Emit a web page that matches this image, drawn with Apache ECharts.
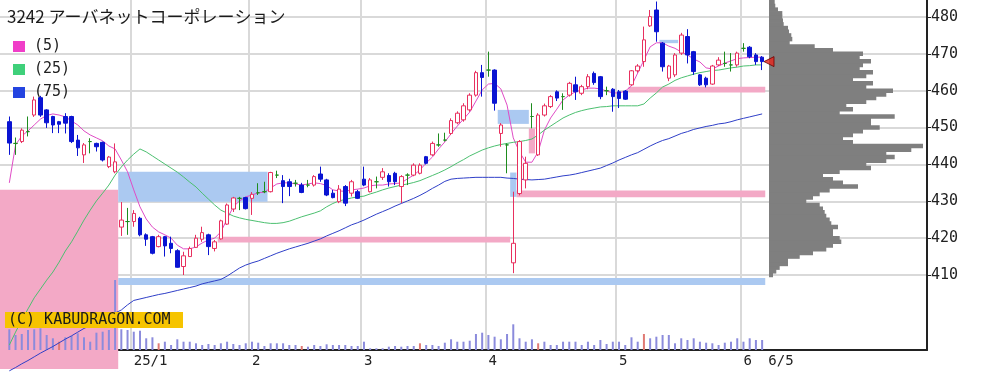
<!DOCTYPE html>
<html lang="ja">
<head>
<meta charset="utf-8">
<title>3242 アーバネットコーポレーション</title>
<script src="https://cdn.jsdelivr.net/npm/echarts@6.0.0/dist/echarts.min.js"></script>
<style>
html,body{margin:0;padding:0;background:#ffffff;}
#chart{width:982px;height:375px;}
</style>
</head>
<body>
<div id="chart"></div>
<script>
// ===================== DATA =====================
const chartTitle = '3242 アーバネットコーポレーション';
const maNames = ['(5)', '(25)', '(75)'];

// trading days shown (Dec 2024 .. Jun 2025)
const daysDec2024 = [3,4,5,6,9,10,11,12,13,16,17,18,19,20,23,24,25,26,27,30];
const daysJan2025 = [6,7,8,9,10,14,15,16,17,20,21,22,23,24,27,28,29,30,31];
const daysFeb2025 = [3,4,5,6,7,10,12,13,14,17,18,19,20,21,25,26,27,28];
const daysMar2025 = [3,4,5,6,7,10,11,12,13,14,17,18,19,21,24,25,26,27,28,31];
const daysApr2025 = [1,2,3,4,7,8,9,10,11,14,15,16,17,18,21,22,23,24,25,28,30];
const daysMay2025 = [1,2,7,8,9,12,13,14,15,16,19,20,21,22,23,26,27,28,29,30];
const daysJun2025 = [2,3,4,5];
const monthKeys = ['2024-12','2025-01','2025-02','2025-03','2025-04','2025-05','2025-06'];

// x tick labels
const monthTickLabels = ['25/1', '2', '3', '4', '5', '6'];
const lastDateLabel = '6/5';

// daily candles [open, close, low, high]
const candles = [
[451.6,445.8,442.6,453.0],[445.7,445.7,442.6,447.3],[446.2,449.3,445.8,449.8],[448.9,448.9,447.6,453.0],[453.4,457.5,452.9,458.4],
[458.1,453.4,452.9,458.6],[454.8,451.3,449.9,455.0],[453.0,450.7,448.5,453.2],[451.6,450.9,448.5,451.8],[453.0,451.2,448.4,453.9],
[453.0,446.2,445.8,453.2],[446.6,444.5,442.3,448.0],[442.6,445.3,440.4,445.8],[446.2,446.2,443.0,447.1],[445.7,444.8,443.5,445.9],
[446.0,441.2,440.8,446.2],[439.4,442.0,439.0,442.3],[438.0,440.7,437.6,445.7],[423.0,424.9,420.6,429.8],[424.5,424.5,420.9,428.2],
[424.5,426.7,423.1,427.6],[425.4,420.9,420.5,425.8],[420.9,419.7,417.9,421.3],[420.4,415.9,415.6,420.6],[417.7,420.4,417.5,420.9],
[420.4,417.9,415.0,420.6],[418.6,417.2,415.9,420.4],[416.6,412.1,412.0,417.0],[412.3,415.2,410.0,416.3],[415.0,417.2,414.9,417.7],
[417.5,420.0,417.4,420.9],[419.7,421.5,419.0,423.1],[420.9,417.7,415.4,421.2],[417.2,419.0,416.4,419.5],[419.8,424.7,419.6,425.0],
[423.8,429.0,423.6,429.4],[427.9,430.9,427.1,431.2],[430.8,430.8,427.6,431.2],[431.0,428.0,427.8,431.2],[430.8,431.9,426.3,432.5],
[432.3,432.3,431.7,434.9],[432.6,432.6,432.2,435.3],[432.6,437.8,432.4,438.0],[437.1,437.1,436.3,438.3],[435.6,434.0,429.5,437.1],
[435.3,434.0,431.4,436.1],[434.9,434.9,434.0,435.8],[434.4,432.4,432.2,435.0],[434.4,434.4,433.8,435.8],[434.4,436.7,434.0,437.1],
[437.4,436.0,435.3,439.4],[435.8,431.7,431.4,436.1],[432.2,431.0,430.8,433.1],[429.9,433.3,429.5,434.4],[434.0,429.5,428.7,434.4],
[432.2,435.3,431.3,435.8],[432.6,430.8,430.6,433.1],[436.0,434.4,434.1,439.4],[432.6,435.8,432.4,436.3],[435.3,435.3,433.5,436.7],
[436.5,438.0,435.8,439.0],[437.0,435.3,434.0,437.6],[437.6,435.3,434.4,438.0],[434.0,436.7,429.5,437.1],[437.1,437.1,434.4,437.6],
[437.1,439.8,436.8,440.3],[437.6,439.8,437.3,440.3],[442.1,440.3,440.0,442.3],[442.6,445.7,442.3,446.2],[445.3,445.3,444.8,448.4],
[446.6,446.6,446.2,448.6],[448.4,451.9,448.0,452.5],[451.3,453.9,450.9,454.4],[452.1,455.9,451.6,456.6],[454.8,458.8,454.3,459.3],
[458.8,464.9,458.4,465.4],[464.9,463.6,458.4,467.0],[465.6,465.6,463.8,470.6],[465.6,456.6,454.6,465.8],[448.4,450.7,444.8,451.2],
[445.3,445.3,437.6,445.7],[413.3,418.6,410.5,432.6],[432.1,446.2,431.6,446.6],[435.8,440.3,433.5,442.1],[453.0,453.0,449.8,456.6],
[442.6,453.4,442.3,453.9],[453.4,455.9,453.0,456.5],[455.7,458.4,455.3,458.8],[459.7,458.0,457.2,460.1],[458.4,458.4,454.8,459.3],
[458.8,462.0,458.4,462.4],[461.6,459.7,457.5,463.8],[459.3,461.1,458.8,461.6],[461.1,463.8,460.4,464.5],[464.7,462.2,461.6,465.2],
[463.8,458.4,457.7,464.0],[460.0,460.0,458.8,461.1],[460.4,458.4,454.3,460.7],[459.7,457.9,455.3,460.2],[459.9,457.7,457.5,460.2],
[461.6,465.4,461.3,465.6],[465.4,466.7,464.9,467.2],[467.9,473.8,466.5,477.4],[477.6,480.1,477.3,481.9],[481.9,476.0,473.3,484.2],
[472.9,466.5,465.2,473.2],[463.4,466.7,462.6,467.0],[464.3,469.7,463.7,470.2],[470.2,475.1,469.7,475.7],[474.7,469.7,467.4,476.7],
[470.6,465.2,464.3,470.8],[464.3,461.6,461.3,464.5],[463.4,461.6,460.9,463.8],[461.8,466.7,461.6,467.0],[467.0,468.3,466.7,469.1],
[467.4,467.4,466.5,470.6],[467.0,467.0,465.2,470.2],[467.0,470.2,466.5,470.6],[471.5,471.5,470.6,472.9],[471.8,469.2,468.8,472.1],
[469.7,467.9,467.0,470.2],[469.1,467.9,465.6,469.4]
];

// moving averages as drawn
const ma5 = [
435.0,445.3,447.7,449.1,450.7,452.3,453.3,453.7,453.4,452.9,
451.8,450.7,449.1,448.0,447.2,446.4,445.0,444.2,441.2,438.0,
433.1,428.5,425.2,423.0,421.7,420.9,420.0,418.1,417.1,417.1,
417.6,418.7,419.5,420.0,421.7,425.2,428.5,430.1,431.2,431.7,
432.3,432.5,433.6,434.7,435.0,435.0,434.7,434.4,434.7,435.0,
434.8,434.3,433.1,432.8,432.7,433.1,433.3,433.6,434.2,434.4,
434.4,434.7,434.8,435.0,436.1,437.1,438.5,440.4,442.0,444.2,
446.1,448.3,450.4,452.3,454.2,457.2,460.2,461.8,462.0,460.5,
456.1,447.2,443.4,440.6,440.6,443.4,449.3,452.6,455.0,457.5,
458.8,459.7,460.2,460.7,460.7,460.5,459.9,459.4,459.4,459.9,
461.3,464.8,468.3,471.9,473.0,473.0,472.1,471.5,470.5,469.7,
468.6,467.8,466.2,465.9,466.7,467.5,468.1,468.7,468.9,469.0,
469.1,469.1];
const ma25 = [
391.0,394.5,397.8,400.8,403.8,406.2,408.6,410.8,413.5,416.5,
419.0,421.9,424.9,427.6,430.1,432.2,434.4,437.1,439.3,441.2,
442.8,444.2,443.4,442.3,441.2,440.1,439.0,437.9,436.6,435.2,
433.9,432.2,430.6,429.0,427.6,426.8,426.0,425.5,425.1,424.8,
424.5,424.2,424.0,424.0,424.2,424.6,425.2,425.8,426.3,426.8,
427.4,428.5,429.4,430.1,430.5,430.9,431.2,431.4,432.0,432.5,
433.1,433.6,434.0,434.4,434.7,435.1,435.6,436.3,437.0,437.7,
438.5,439.4,440.4,441.3,442.3,443.1,443.9,444.5,445.0,445.4,
445.7,446.0,446.2,446.5,446.9,448.0,449.3,450.4,451.5,452.6,
453.4,454.1,454.6,455.0,455.3,455.6,455.7,455.9,455.9,455.9,
455.9,455.9,456.4,458.0,459.4,461.0,461.8,462.8,463.5,464.0,
464.5,464.9,465.2,465.5,465.6,465.9,466.2,466.4,466.7,466.8,
467.0,467.0];
const ma75 = [
384.0,384.9,385.9,386.8,387.8,388.8,389.7,390.6,391.6,392.6,
393.5,394.5,395.5,396.3,397.1,397.9,398.8,399.7,400.5,401.9,
403.1,403.5,403.9,404.3,404.7,405.0,405.4,405.8,406.2,406.6,
407.0,407.6,408.0,408.4,408.8,409.7,410.8,411.9,412.7,413.3,
413.8,414.5,415.2,415.9,416.5,417.1,417.6,418.1,418.6,419.2,
419.8,420.6,421.3,422.0,422.8,423.6,424.2,424.9,425.7,426.5,
427.2,427.9,428.7,429.4,430.1,430.8,431.6,432.5,433.5,434.4,
435.4,436.0,436.2,436.3,436.4,436.5,436.5,436.5,436.5,436.5,
436.3,436.2,436.0,435.9,435.8,435.9,436.0,436.3,436.6,436.9,
437.1,437.4,437.8,438.2,438.6,439.0,439.7,440.4,441.2,441.9,
442.6,443.2,444.1,445.0,445.8,446.5,447.0,447.7,448.4,448.9,
449.5,449.9,450.3,450.6,451.0,451.2,451.6,452.1,452.5,452.9,
453.3,453.7];

// daily volume (thousand shares, estimated)
const volume = [
207,150,160,200,207,217,150,117,83,127,
140,167,127,83,173,183,200,700,207,200,
183,193,117,127,67,83,50,107,83,83,
67,50,60,50,67,83,60,50,67,83,
73,40,67,67,67,50,50,40,33,50,
40,57,50,50,50,40,40,83,17,17,
17,33,40,33,40,40,67,50,50,40,
73,107,83,83,93,160,173,150,133,107,
160,257,117,83,107,67,83,50,50,83,
83,83,50,83,50,100,60,83,83,50,
127,83,160,117,133,150,150,67,117,100,
117,83,73,67,50,73,83,117,83,117,
100,100];
// sessions whose volume bar is highlighted (SQ days)
const sqDays = [8, 24, 47, 66, 85, 102];

// price zones [firstSession, lastSession, low, high]  (-1 = from chart start)
const pinkZones = [
[-1, 17, 384.5, 433.1],
[34, 80, 418.8, 420.4],
[82, 121, 431.1, 432.9],
[100, 121, 459.5, 461.1],
[84, 84, 443.0, 449.8]];
const blueZones = [
[18, 41, 429.9, 438.0],
[18, 121, 407.3, 409.2],
[79, 83, 451.0, 454.8],
[81, 81, 431.2, 437.8],
[105, 107, 472.9, 473.8]];

// volume-by-price profile
const profileLevels = [
410,411,412,413,414,415,416,417,418,419,
420,421,422,423,424,425,426,427,428,429,
430,431,432,433,434,435,436,437,438,439,
440,441,442,443,444,445,446,447,448,449,
450,451,452,453,454,455,456,457,458,459,
460,461,462,463,464,465,466,467,468,469,
470,471,472,473,474,475,476,477,478,479,
480,481,482,483,484];
const profileVolume = [
40,73,107,190,190,307,440,573,640,723,
707,640,640,690,623,607,573,557,540,507,
373,440,507,607,890,740,640,540,707,1020,
973,1173,1257,1173,1423,1540,840,740,840,940,
1107,1020,1020,1257,707,840,773,973,1073,1173,
1240,973,1040,840,973,1040,907,940,1020,907,
940,640,457,207,233,223,200,190,147,140,
133,133,90,63,57];

// ===================== BUILD =====================
const LEAD = 1;   // empty slot before first session
const TAIL = 26;  // empty slots to the right (profile area)
const monthDays = [daysDec2024, daysJan2025, daysFeb2025, daysMar2025, daysApr2025, daysMay2025, daysJun2025];

const categories = ['start'];
monthKeys.forEach((ym, mi) => monthDays[mi].forEach(d => categories.push(ym + '-' + String(d).padStart(2, '0'))));
for (let i = 0; i < TAIL; i++) categories.push('blank' + i);

const labelAt = {}, splitAt = {};
let pos = LEAD;
monthDays.forEach((days, mi) => {
  if (mi > 0) { labelAt[pos] = monthTickLabels[mi - 1]; splitAt[pos] = true; }
  pos += days.length;
});
labelAt[pos] = lastDateLabel;

const pad = arr => ['-'].concat(arr);
const candleData = [['-', '-', '-', '-']].concat(candles);
const volData = ['-'].concat(volume.map((v, i) =>
  sqDays.indexOf(i) >= 0 ? { value: v, itemStyle: { color: '#e07a74' } } : v));

function zoneSeries(zones, color) {
  return {
    type: 'custom', xAxisIndex: 0, yAxisIndex: 0, z: 1, silent: true, clip: false,
    encode: { x: [0, 1], y: [2, 3] },
    data: zones.map(z => [z[0] + LEAD, z[1] + LEAD, z[2], z[3]]),
    renderItem: function (params, api) {
      const a = api.coord([api.value(0), api.value(3)]);
      const b = api.coord([api.value(1), api.value(2)]);
      const bw = api.size([1, 0])[0];
      return { type: 'rect',
        shape: { x: a[0] - bw / 2, y: a[1], width: b[0] - a[0] + bw, height: b[1] - a[1] },
        style: { fill: color } };
    }
  };
}

const GRID_LINE = { color: '#d9d9d9', width: 2 };
const MONO = 'DejaVu Sans Mono';

const option = {
  animation: false,
  backgroundColor: '#ffffff',
  textStyle: { fontFamily: MONO },
  title: {
    text: chartTitle, left: 7, top: 8, padding: 0,
    textStyle: { fontFamily: 'Noto Sans CJK JP', fontSize: 17, fontWeight: 'normal', color: '#1a1a1a' }
  },
  legend: {
    orient: 'vertical', left: 8, top: 34, itemWidth: 12, itemHeight: 11, itemGap: 8,
    icon: 'rect', selectedMode: false, data: maNames,
    textStyle: { fontFamily: MONO, fontSize: 15, color: '#222', padding: [0, 0, 0, 4] }
  },
  grid: [
    { left: 0, right: 55, top: 17, bottom: 100, containLabel: false, outerBoundsMode: 'none' },
    { left: 0, right: 55, top: 0, bottom: 25, containLabel: false, outerBoundsMode: 'none' },
    { left: 769, right: 55, top: 17, bottom: 100, containLabel: false, outerBoundsMode: 'none' }
  ],
  xAxis: [
    { type: 'category', gridIndex: 0, data: categories, boundaryGap: true, show: false },
    { type: 'category', gridIndex: 1, data: categories, boundaryGap: true,
      axisLine: { show: true, lineStyle: { color: '#222', width: 2 } },
      axisTick: { show: false },
      axisLabel: {
        interval: function (i) { return labelAt[i] !== undefined; },
        formatter: function (v, i) { return labelAt[i] || ''; },
        align: 'left', margin: 4, fontFamily: MONO, fontSize: 14, color: '#222'
      },
      splitLine: { show: true, interval: function (i) { return splitAt[i] === true; }, lineStyle: GRID_LINE }
    },
    { type: 'value', gridIndex: 2, min: 0, max: 1580, show: false }
  ],
  yAxis: [
    { type: 'value', gridIndex: 0, position: 'right', min: 410, max: 480, interval: 10,
      axisLine: { show: false },
      axisTick: { show: true, length: 4, lineStyle: { color: '#222' } },
      axisLabel: { margin: 4, fontFamily: MONO, fontSize: 15, color: '#222' },
      splitLine: { show: true, lineStyle: GRID_LINE } },
    { type: 'value', gridIndex: 1, position: 'right', min: 0, max: 3500,
      axisLine: { show: true, lineStyle: { color: '#222', width: 2 } },
      axisTick: { show: false }, axisLabel: { show: false }, splitLine: { show: false } },
    { type: 'value', gridIndex: 2, min: 410, max: 480, show: false }
  ],
  series: [
    zoneSeries(pinkZones, '#f3a9c6'),
    zoneSeries(blueZones, '#abc9f1'),
    { type: 'bar', name: 'volume', xAxisIndex: 1, yAxisIndex: 1, data: volData, barWidth: 2, z: 2,
      silent: true, itemStyle: { color: '#8b8bdc' } },
    { type: 'custom', name: 'profile', xAxisIndex: 2, yAxisIndex: 2, z: 2, silent: true, clip: false,
      encode: { x: 1, y: 0 },
      data: profileLevels.map((p, i) => [p, profileVolume[i]]),
      renderItem: function (params, api) {
        const p = api.value(0), v = api.value(1);
        const a = api.coord([0, p + 0.5]);
        const b = api.coord([v, p - 0.5]);
        return { type: 'rect', shape: { x: a[0], y: a[1] - 0.4, width: b[0] - a[0], height: b[1] - a[1] + 0.8 },
          style: { fill: '#7f7f7f' } };
      } },
    { type: 'line', name: maNames[0], xAxisIndex: 0, yAxisIndex: 0, data: pad(ma5), symbol: 'none',
      clip: false, z: 3, silent: true, lineStyle: { width: 1, color: '#e04cc6' }, itemStyle: { color: '#f03ec8' } },
    { type: 'line', name: maNames[1], xAxisIndex: 0, yAxisIndex: 0, data: pad(ma25), symbol: 'none',
      clip: false, z: 3, silent: true, lineStyle: { width: 1, color: '#4cc070' }, itemStyle: { color: '#3fd07a' } },
    { type: 'line', name: maNames[2], xAxisIndex: 0, yAxisIndex: 0, data: pad(ma75), symbol: 'none',
      clip: false, z: 3, silent: true, lineStyle: { width: 1, color: '#2f3fc8' }, itemStyle: { color: '#2444e0' } },
    { type: 'candlestick', name: 'price', xAxisIndex: 0, yAxisIndex: 0, data: candleData, barWidth: 4,
      clip: false, z: 4, silent: true,
      itemStyle: { color: '#ffffff', color0: '#0a14d2', borderColor: '#e8305f', borderColor0: '#0a14d2',
        borderColorDoji: '#1e8c1e', borderWidth: 1 } },
    { type: 'scatter', name: 'last', xAxisIndex: 2, yAxisIndex: 2, z: 6, silent: true, clip: false,
      data: [[0, candles[candles.length - 1][1]]], symbol: 'triangle', symbolRotate: 90, symbolSize: [10, 10],
      itemStyle: { color: '#e8241c', borderColor: '#6a0000', borderWidth: 1 } }
  ],
  graphic: [
    { type: 'rect', left: 5, top: 312, z: 100, zlevel: 1, silent: true,
      shape: { x: 0, y: 0, width: 178, height: 16 }, style: { fill: '#f6c400' } },
    { type: 'text', left: 8, top: 313, z: 101, zlevel: 1, silent: true,
      style: { text: '(C) KABUDRAGON.COM', fontFamily: MONO, fontSize: 15, fill: '#1a1a1a' } }
  ]
};

const chart = echarts.init(document.getElementById('chart'), null, { renderer: 'canvas' });
chart.setOption(option);
</script>
</body>
</html>
